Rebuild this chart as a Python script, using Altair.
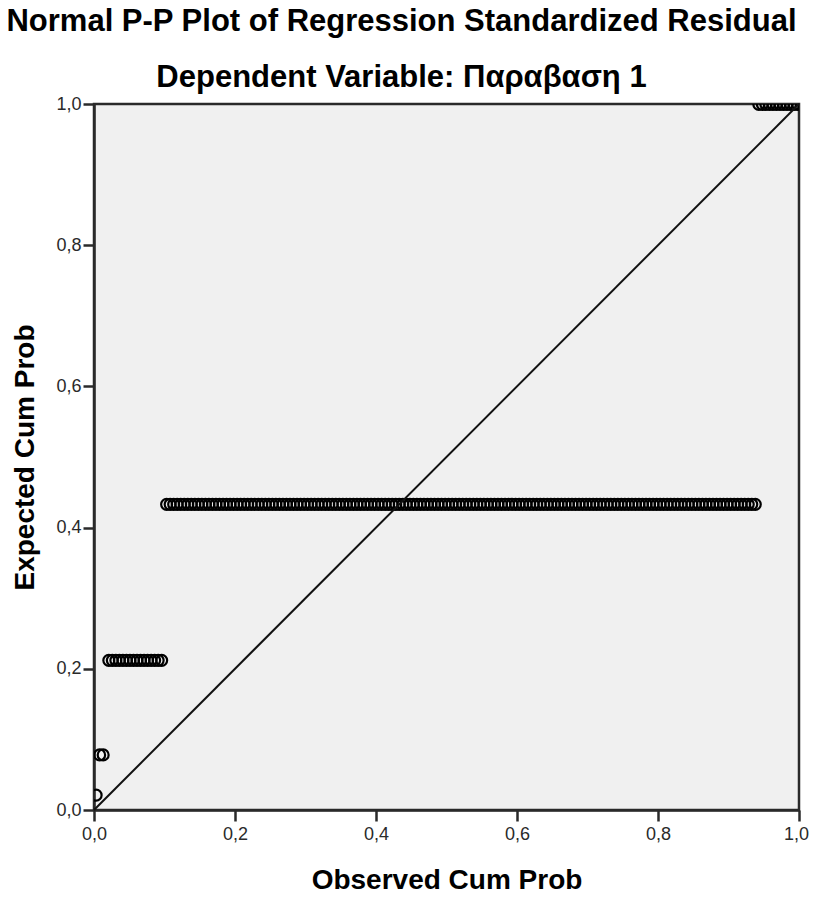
import altair as alt
import pandas as pd

# ---- data ----
row1_y = 0.021
row1_x = [0.003]

row2_y = 0.078
row2_x = [0.008, 0.013]

row3_y = 0.212
row3_x = [0.021, 0.026, 0.031, 0.036, 0.041, 0.046, 0.051, 0.056,
          0.061, 0.066, 0.071, 0.076, 0.081, 0.086, 0.091, 0.096]

row4_y = 0.433
row4_x = [
    0.103, 0.108, 0.113, 0.118, 0.123, 0.128, 0.133, 0.138, 0.143, 0.148,
    0.153, 0.158, 0.163, 0.168, 0.173, 0.178, 0.183, 0.188, 0.193, 0.198,
    0.203, 0.208, 0.213, 0.218, 0.223, 0.228, 0.233, 0.238, 0.243, 0.248,
    0.253, 0.258, 0.263, 0.268, 0.273, 0.278, 0.283, 0.288, 0.293, 0.298,
    0.303, 0.308, 0.313, 0.318, 0.323, 0.328, 0.333, 0.338, 0.343, 0.348,
    0.353, 0.358, 0.363, 0.368, 0.373, 0.378, 0.383, 0.388, 0.393, 0.398,
    0.403, 0.408, 0.413, 0.418, 0.423, 0.428, 0.433, 0.438, 0.443, 0.448,
    0.453, 0.458, 0.463, 0.468, 0.473, 0.478, 0.483, 0.488, 0.493, 0.498,
    0.503, 0.508, 0.513, 0.518, 0.523, 0.528, 0.533, 0.538, 0.543, 0.548,
    0.553, 0.558, 0.563, 0.568, 0.573, 0.578, 0.583, 0.588, 0.593, 0.598,
    0.603, 0.608, 0.613, 0.618, 0.623, 0.628, 0.633, 0.638, 0.643, 0.648,
    0.653, 0.658, 0.663, 0.668, 0.673, 0.678, 0.683, 0.688, 0.693, 0.698,
    0.703, 0.708, 0.713, 0.718, 0.723, 0.728, 0.733, 0.738, 0.743, 0.748,
    0.753, 0.758, 0.763, 0.768, 0.773, 0.778, 0.783, 0.788, 0.793, 0.798,
    0.803, 0.808, 0.813, 0.818, 0.823, 0.828, 0.833, 0.838, 0.843, 0.848,
    0.853, 0.858, 0.863, 0.868, 0.873, 0.878, 0.883, 0.888, 0.893, 0.898,
    0.903, 0.908, 0.913, 0.918, 0.923, 0.928, 0.933, 0.938,
]

row5_y = 0.9995
row5_x = [0.943, 0.948, 0.953, 0.958, 0.963, 0.968, 0.973, 0.978,
          0.983, 0.988, 0.993, 0.998]

diag_x = [0.0, 1.0]
diag_y = [0.0, 1.0]

tick_values = [0.0, 0.2, 0.4, 0.6, 0.8, 1.0]

title_lines = ["Normal P-P Plot of Regression Standardized Residual",
               "Dependent Variable: Παραβαση 1"]

# ---- build tables ----
rows = []
for xs, yv in [(row1_x, row1_y), (row2_x, row2_y), (row3_x, row3_y),
               (row4_x, row4_y), (row5_x, row5_y)]:
    for xv in xs:
        rows.append({"observed": xv, "expected": yv})
pts = pd.DataFrame(rows)
diag = pd.DataFrame({"observed": diag_x, "expected": diag_y})

FONT = "Liberation Sans"
AXC = "#2a2a2a"
label_expr = "replace(format(datum.value, '.1f'), '.', ',')"

x_axis = alt.Axis(
    values=tick_values, labelExpr=label_expr, grid=False,
    labelFlush=False, labelOverlap=False,
    labelOffset={"condition": {"test": "datum.value == 1", "value": -3}, "value": 0},
    tickSize=11, tickWidth=2.5, tickColor=AXC,
    title="Observed Cum Prob", titleY=78, titleX=352.5,
    titleBaseline="alphabetic", titleAlign="center", labelPadding=4,
)
y_axis = alt.Axis(
    values=tick_values, labelExpr=label_expr, grid=False,
    tickSize=11, tickWidth=2.5, tickColor=AXC,
    title="Expected Cum Prob", titleX=-61, titleY=353,
    titleBaseline="alphabetic", titleAlign="center", titleAngle=270,
    labelPadding=2,
)

x_scale = alt.Scale(domain=[0, 1], nice=False, zero=False)
y_scale = alt.Scale(domain=[0, 1], nice=False, zero=False)

points = alt.Chart(pts).mark_point(
    shape="circle", filled=False, size=120, strokeWidth=2.2,
    color="#000000", opacity=1, clip=True,
).encode(
    x=alt.X("observed:Q", scale=x_scale, axis=x_axis),
    y=alt.Y("expected:Q", scale=y_scale, axis=y_axis),
)

line = alt.Chart(diag).mark_line(color="#111111", strokeWidth=2).encode(
    x=alt.X("observed:Q", scale=x_scale),
    y=alt.Y("expected:Q", scale=y_scale),
)

chart = (
    alt.layer(points, line)
    .properties(
        width=705,
        height=706,
        autosize=alt.AutoSizeParams(type="none"),
        padding={"left": 86, "top": 96, "right": 11, "bottom": 86},
        title=alt.TitleParams(
            text=title_lines, fontSize=31, fontWeight="bold", font=FONT,
            color="black", lineHeight=56, anchor="middle", dx=-45, dy=27,
            baseline="alphabetic",
        ),
        background="white",
    )
    .configure_view(fill="#f0f0f0", stroke=AXC, strokeWidth=2.5)
    .configure_axis(
        domainColor=AXC, domainWidth=2.5,
        labelFont=FONT, labelFontSize=18, labelColor=AXC,
        titleFont=FONT, titleFontSize=28, titleFontWeight="bold",
        titleColor="black",
    )
)

chart.save("out.html", embed_options={"renderer": "svg", "actions": False})
